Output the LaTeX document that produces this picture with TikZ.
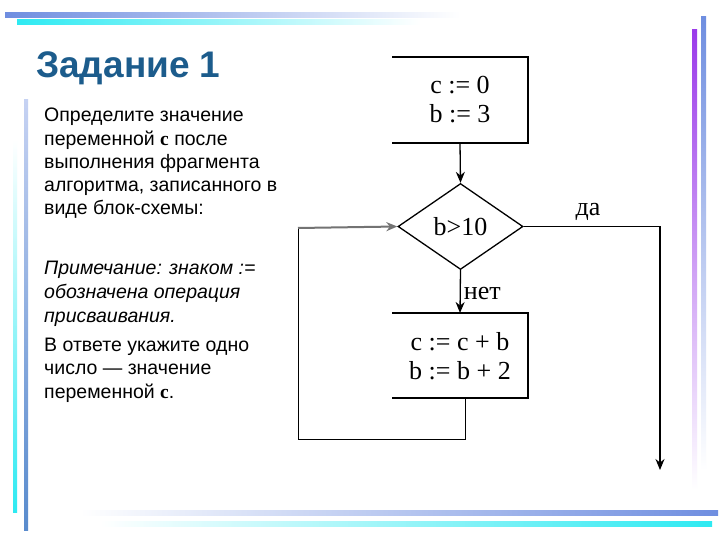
\documentclass[tikz,border=0pt]{standalone}
\usepackage{fontspec}
\setmainfont{Liberation Sans}
\newfontfamily\tnr{Liberation Serif}
\usetikzlibrary{shapes.geometric,arrows.meta}
\definecolor{barblue}{HTML}{6F8EE0}
\definecolor{barcyan}{HTML}{2EEAF2}
\definecolor{barpurple}{HTML}{9B3BEA}
\definecolor{titleblue}{HTML}{1C5C8C}
\begin{document}
\begin{tikzpicture}[x=1pt,y=-1pt,
  txt/.style={anchor=north west,inner sep=0pt,align=left,font=\fontsize{19.5}{23.2}\selectfont},
  fl/.style={font=\tnr\fontsize{26}{29}\selectfont,inner sep=0pt},
  ln/.style={line width=1.3pt},
  arr/.style={ln,-{Stealth[length=11pt,width=9pt]}}]
\useasboundingbox (0,0) rectangle (720,540);
\fill[white] (0,0) rectangle (720,540);
% decorative bars
\shade[left color=barblue,right color=white] (5,13) rectangle (460,18);
\shade[left color=barcyan,right color=white] (17,20) rectangle (420,25);
\shade[top color=white,bottom color=barcyan] (13,140) rectangle (17,512);
\shade[top color=barblue!40,bottom color=barblue!80!teal] (24,100) rectangle (28,530);
\shade[left color=white,right color=barblue] (80,510) rectangle (718,515);
\shade[left color=white,right color=barcyan] (100,521) rectangle (712,526);
\shade[top color=barpurple,bottom color=white] (692,30) rectangle (697,490);
\shade[top color=barblue,bottom color=white] (701,17) rectangle (706,470);
% left text
\node[anchor=base west,inner sep=0pt,text=titleblue,font=\bfseries\fontsize{37}{40}\selectfont] (title) at (36,78) {Задание 1};
\node[txt] (t1) at (44,108) {Определите значение\\переменной {\tnr\bfseries c} после\\выполнения фрагмента\\алгоритма, записанного в\\виде блок-схемы:};
\node[txt,font=\itshape\fontsize{19.5}{24}\selectfont] (t2) at (44,261) {Примечание: знаком :=\\обозначена операция\\присваивания.};
\node[txt] (t3) at (44,338) {В ответе укажите одно\\число — значение\\переменной {\tnr\bfseries c}.};
% flowchart
\coordinate (b1nw) at (392,57); \coordinate (b1ne) at (528,57);
\coordinate (b1se) at (528,143); \coordinate (b1sw) at (392,143);
\draw[ln] (b1nw) -- (b1ne) -- (b1se) -- (b1sw);
\node[fl,align=center] (b1) at (460,100) {c := 0\\b := 3};
\node[draw,ln,diamond,minimum width=125pt,minimum height=86pt,inner sep=0pt,aspect=1.45] (d) at (460.5,226.5) {};
\node[fl] (dl) at (d.center) {b>10};
\draw[arr] (460,143) -- (d.north);
\coordinate (b2nw) at (392,313); \coordinate (b2ne) at (528,313);
\coordinate (b2se) at (528,398); \coordinate (b2sw) at (392,398);
\draw[ln] (b2nw) -- (b2ne) -- (b2se) -- (b2sw);
\node[fl,align=center] (b2) at (460,356) {c := c + b\\b := b + 2};
\draw[arr] (d.south) -- (460,313) node[fl,anchor=west,pos=0.55,xshift=3pt] (no) {нет};
\coordinate (lb) at (465,398);
\coordinate (l1) at (465,439); \coordinate (l2) at (298,439); \coordinate (l3) at (298,228);
\draw[line width=0.8pt] (lb) -- (l1) -- (l2) -- (l3);
\draw[arr,line width=2pt,draw=black!55] (l3) -- (d.west);
\coordinate (r1) at (660,226.5); \coordinate (r2) at (660,470);
\draw[arr] (d.east) -- (r1) -- (r2);
\node[fl] (yes) at (588,212) {да};
\end{tikzpicture}
\end{document}
